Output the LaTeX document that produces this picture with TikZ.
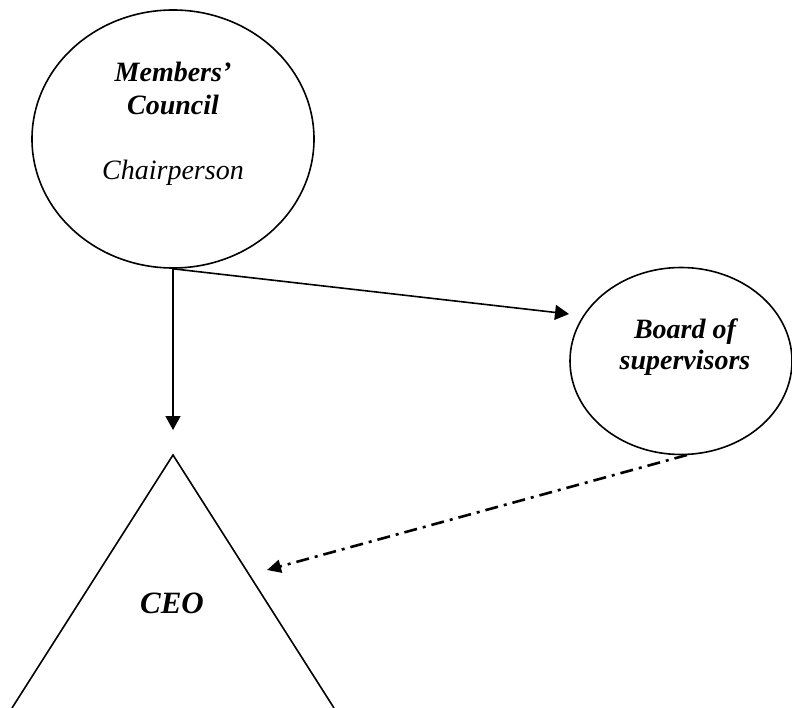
\documentclass[tikz,border=0pt]{standalone}
\usepackage{fontspec}
\setmainfont{Liberation Serif}
\usetikzlibrary{shapes.geometric,arrows.meta}
\begin{document}
\begin{tikzpicture}[x=1pt,y=-1pt,
  oval/.style={draw,ellipse,line width=1.6pt,inner sep=0pt},
  lbl/.style={anchor=base,inner sep=0pt,font=\fontsize{28}{33}\selectfont\bfseries\itshape},
  sublbl/.style={anchor=base,inner sep=0pt,font=\fontsize{28}{33}\selectfont\itshape},
  link/.style={line width=1.6pt,-{Triangle[length=14pt,width=15pt]}},
  dotlink/.style={line width=2.6pt,dash pattern=on 13pt off 6pt on 3pt off 6pt,
    -{Triangle[length=14pt,width=13pt]}}]
\useasboundingbox (0,0) rectangle (792,708);
% Members' Council
\node[oval,minimum width=282pt,minimum height=258pt] (mc) at (173,139) {};
\node[lbl] (mct1) at (173,82) {Members’};
\node[lbl] (mct2) at (173,115) {Council};
\node[sublbl] (mct3) at (173,180) {Chairperson};
% Board of supervisors
\node[oval,minimum width=222pt,minimum height=187pt] (bd) at (681,361) {};
\node[lbl] (bdt1) at (685,339) {Board of};
\node[lbl] (bdt2) at (685,370) {supervisors};
% CEO triangle (open at the bottom edge)
\coordinate (apex) at (173,455);
\coordinate (baseL) at (12,708);
\coordinate (baseR) at (334,708);
\draw[line width=1.6pt] (baseL) -- (apex) -- (baseR);
\node[lbl,font=\fontsize{31}{36}\selectfont\bfseries\itshape] (ceo) at (172,613) {CEO};
% connectors
\coordinate (bdin) at (569,314);
\coordinate (ceotop) at (173,430);
\coordinate (ceoin) at (267,570);
\coordinate (bdout) at (687,455);
\draw[link] (mc.south) -- (ceotop);
\draw[link] (mc.south) -- (bdin);
\draw[dotlink] (bdout) -- (ceoin);
\end{tikzpicture}
\end{document}
